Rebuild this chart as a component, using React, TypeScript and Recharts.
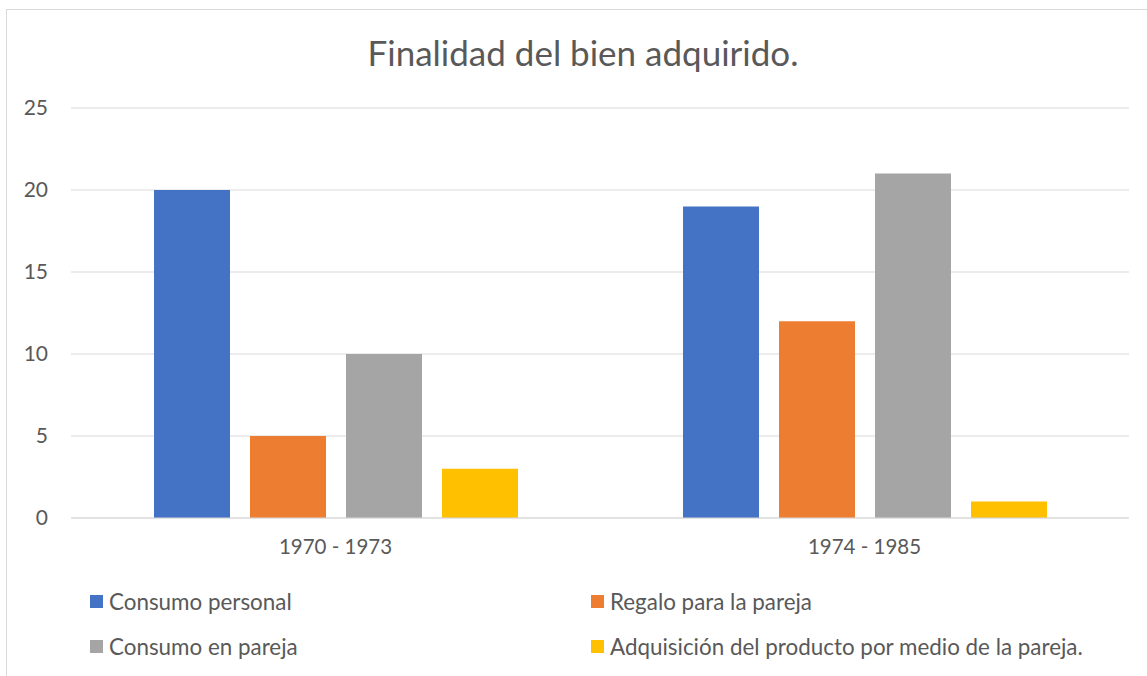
import { BarChart, Bar, XAxis, YAxis, CartesianGrid } from "recharts"

const periods = ["1970 - 1973", "1974 - 1985"]
const seriesNames = [
  "Consumo personal",
  "Regalo para la pareja",
  "Consumo en pareja",
  "Adquisición del producto por medio de la pareja.",
]
const seriesColors = ["#4472C4", "#ED7D31", "#A5A5A5", "#FFC000"]
const consumoPersonal = [20, 19]
const regaloPareja = [5, 12]
const consumoPareja = [10, 21]
const adquisicionPareja = [3, 1]
const yTicks = [0, 5, 10, 15, 20, 25]

const seriesValues = [consumoPersonal, regaloPareja, consumoPareja, adquisicionPareja]

const data = periods.map((p, i) => {
  const row: Record<string, string | number> = { period: p }
  seriesNames.forEach((name, s) => {
    row[name] = seriesValues[s][i]
  })
  return row
})

const font = "Lato, Calibri, 'Open Sans', sans-serif"
const textColor = "#595959"

export default function App() {
  return (
    <div style={{ position: "fixed", left: 0, top: 0, width: 1147, height: 676, background: "#fff", overflow: "hidden", fontFamily: font }}>
      <div style={{ position: "absolute", left: 6, top: 9, width: 1160, height: 700, border: "1px solid #d9d9d9" }} />
      <div style={{ position: "absolute", left: 0, top: 31, width: 1166, textAlign: "center", fontSize: 35, color: textColor }}>
        Finalidad del bien adquirido.
      </div>
      <div style={{ position: "absolute", left: 0, top: 0 }}>
        <BarChart
          width={1147}
          height={676}
          data={data}
          margin={{ top: 108, right: 18, bottom: 128, left: 0 }}
          barSize={76}
          barGap={20}
        >
          <CartesianGrid vertical={false} stroke="#d9d9d9" />
          <XAxis
            dataKey="period"
            axisLine={{ stroke: "#d9d9d9" }}
            tickLine={false}
            tickMargin={15}
            tick={{ fill: textColor, fontSize: 20.5, fontFamily: font }}
          />
          <YAxis
            width={71}
            domain={[0, 25]}
            ticks={yTicks}
            axisLine={false}
            tickLine={false}
            tickMargin={17}
            tick={{ fill: textColor, fontSize: 21, fontFamily: font }}
          />
          {seriesNames.map((name, s) => (
            <Bar key={name} dataKey={name} fill={seriesColors[s]} isAnimationActive={false} />
          ))}
        </BarChart>
      </div>
      {seriesNames.map((name, s) => (
        <div
          key={name}
          style={{
            position: "absolute",
            left: s % 2 === 0 ? 90 : 591,
            top: s < 2 ? 588 : 633,
            display: "flex",
            alignItems: "center",
            fontSize: 22.4,
            color: textColor,
            whiteSpace: "nowrap",
          }}
        >
          <span style={{ display: "inline-block", width: 13, height: 13, background: seriesColors[s], marginRight: 6 }} />
          {name}
        </div>
      ))}
    </div>
  )
}
